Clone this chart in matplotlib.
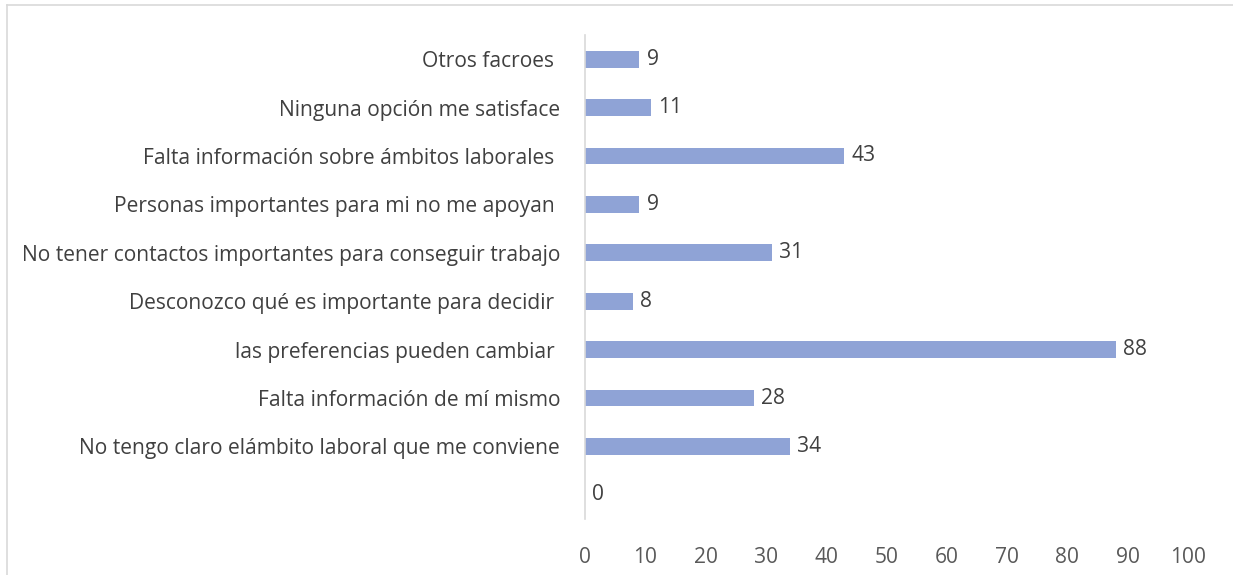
import matplotlib
matplotlib.use("Agg")
import matplotlib.pyplot as plt
from matplotlib.lines import Line2D

categories = [
    "",
    "No tengo claro elámbito laboral que me conviene",
    "Falta información de mí mismo",
    "las preferencias pueden cambiar ",
    "Desconozco qué es importante para decidir ",
    "No tener contactos importantes para conseguir trabajo",
    "Personas importantes para mi no me apoyan ",
    "Falta información sobre ámbitos laborales ",
    "Ninguna opción me satisface",
    "Otros facroes ",
]
values = [0, 34, 28, 88, 8, 31, 9, 43, 11, 9]
x_ticks = [0, 10, 20, 30, 40, 50, 60, 70, 80, 90, 100]

plt.rcParams['font.family'] = ['Open Sans', 'DejaVu Sans']
fs = 15.1

fig = plt.figure(figsize=(12.33, 5.75), dpi=100)
ax = fig.add_axes([585 / 1233, 1 - 519 / 575, 603 / 1233, 484 / 575])

y = range(len(categories))
ax.barh(y, values, height=0.35, color='#8FA3D6')
for yi, v in zip(y, values):
    ax.text(v + 1.2, yi, str(v), va='center', ha='left', fontsize=fs, color='#404040')

ax.set_xlim(0, 100)
ax.set_ylim(-0.5, len(categories) - 0.5)
ax.set_xticks(x_ticks)
ax.set_yticks(list(y))
ax.set_yticklabels(categories)
ax.tick_params(axis='x', length=0, pad=20, labelsize=fs, labelcolor='#595959')
ax.tick_params(axis='y', length=0, pad=18, labelsize=fs, labelcolor='#404040')

for s in ['top', 'right', 'bottom']:
    ax.spines[s].set_visible(False)
ax.spines['left'].set_color('#D9D9D9')
ax.spines['left'].set_linewidth(1.2)

# light frame (left and top edges) around the chart area
fx, fy = 7 / 1233, 1 - 5 / 575
fig.add_artist(Line2D([fx, fx], [0, fy], transform=fig.transFigure, color='#D9D9D9', lw=1.2))
fig.add_artist(Line2D([fx, 1], [fy, fy], transform=fig.transFigure, color='#D9D9D9', lw=1.2))

fig.savefig('out.png', dpi=100)
